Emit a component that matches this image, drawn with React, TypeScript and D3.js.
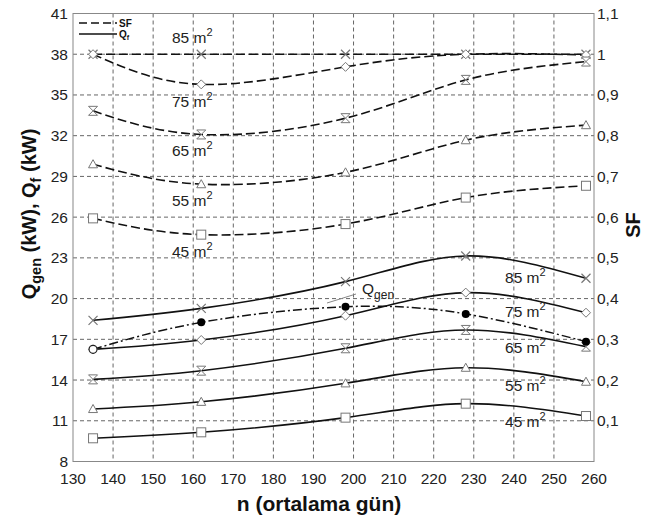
import React from "react";
import * as d3 from "d3";

const days = [135, 162, 198, 228, 258];
const areas = ["85", "75", "65", "55", "45"];
const markerTypes = ["cross", "diamond", "hourglass", "triangle", "square"];

// SF (right axis)
const sf85 = [1, 1, 1, 1, 1];
const sf75 = [1, 0.926, 0.969, 1, 0.998];
const sf65 = [0.861, 0.803, 0.843, 0.937, 0.982];
const sf55 = [0.73, 0.681, 0.71, 0.789, 0.826];
const sf45 = [0.597, 0.557, 0.583, 0.648, 0.677];

// Qf (left axis, kW)
const qf85 = [18.4, 19.28, 21.25, 23.14, 21.5];
const qf75 = [16.26, 16.95, 18.74, 20.44, 18.96];
const qf65 = [14.05, 14.69, 16.34, 17.69, 16.46];
const qf55 = [11.87, 12.4, 13.76, 14.91, 13.88];
const qf45 = [9.71, 10.15, 11.23, 12.26, 11.35];

// Qgen (left axis, kW)
const qgen = [16.26, 18.25, 19.4, 18.87, 16.83];

const xTicks = [130, 140, 150, 160, 170, 180, 190, 200, 210, 220, 230, 240, 250, 260];
const yLeftTicks = [8, 11, 14, 17, 20, 23, 26, 29, 32, 35, 38, 41];
const yRightTicks = [0.1, 0.2, 0.3, 0.4, 0.5, 0.6, 0.7, 0.8, 0.9, 1, 1.1];

// label anchor values (data coordinates)
const sfLabelDay = 154.7;
const sfLabelVal = [1.028, 0.87, 0.75, 0.627, 0.502];
const qfLabelDay = 237.8;
const qfLabelVal = [21.15, 18.65, 16.0, 13.2, 10.54];

const sfSeries = [sf85, sf75, sf65, sf55, sf45];
const qfSeries = [qf85, qf75, qf65, qf55, qf45];

const L = 73, R = 594, T = 13.5, B = 461.5;
const FONT = "'Liberation Sans', Arial, sans-serif";

function Marker({ type, x, y }: { type: string; x: number; y: number }) {
  const s = 4.5;
  const st = { stroke: "#777", strokeWidth: 1, fill: "#fff" } as any;
  if (type === "square") return <rect x={x - s} y={y - s} width={2 * s} height={2 * s} {...st} />;
  if (type === "diamond")
    return <path d={`M${x},${y - s}L${x + s},${y}L${x},${y + s}L${x - s},${y}Z`} {...st} />;
  if (type === "triangle")
    return <path d={`M${x},${y - s}L${x + s},${y + s * 0.8}L${x - s},${y + s * 0.8}Z`} {...st} />;
  if (type === "hourglass")
    return <path d={`M${x - s},${y - s}L${x + s},${y - s}L${x - s},${y + s}L${x + s},${y + s}Z`} {...st} />;
  if (type === "cross")
    return <path d={`M${x - s},${y - s}L${x + s},${y + s}M${x - s},${y + s}L${x + s},${y - s}`} stroke="#777" strokeWidth={1.2} fill="none" />;
  return null;
}

function AreaLabel({ x, y, a }: { x: number; y: number; a: string }) {
  return (
    <text x={x} y={y} fontSize={15.5} fill="#222" fontFamily={FONT}>
      {a} m<tspan fontSize={11} dy={-7}>2</tspan>
    </text>
  );
}

export default function App() {
  const x = d3.scaleLinear().domain([130, 260]).range([L, R]);
  const yL = d3.scaleLinear().domain([8, 41]).range([B, T]);
  const yR = d3.scaleLinear().domain([0, 1.1]).range([B, T]);

  const lineL = d3.line<number>().x((_, i) => x(days[i])).y((d) => yL(d)).curve(d3.curveNatural);
  const lineR = d3.line<number>().x((_, i) => x(days[i])).y((d) => yR(d)).curve(d3.curveNatural);

  return (
    <svg width={646} height={527} style={{ position: "absolute", left: 0, top: 0, background: "#fff" }}>
      <rect width={646} height={527} fill="#fff" />
      {/* grid */}
      {xTicks.slice(1, -1).map((t) => (
        <line key={"gx" + t} x1={x(t)} x2={x(t)} y1={T} y2={B} stroke="#666" strokeWidth={1} strokeDasharray="4,3" />
      ))}
      {yLeftTicks.slice(1, -1).map((t) => (
        <line key={"gy" + t} x1={L} x2={R} y1={yL(t)} y2={yL(t)} stroke="#666" strokeWidth={1} strokeDasharray="4,3" />
      ))}
      {/* frame */}
      <rect x={L} y={T} width={R - L} height={B - T} fill="none" stroke="#888" strokeWidth={1} />

      {/* SF lines */}
      {sfSeries.map((s, i) => (
        <path key={"sf" + i} d={lineR(s) || ""} fill="none" stroke="#111" strokeWidth={1.6} strokeDasharray="9,4" />
      ))}
      {/* Qf lines */}
      {qfSeries.map((s, i) => (
        <path key={"qf" + i} d={lineL(s) || ""} fill="none" stroke="#111" strokeWidth={1.6} />
      ))}
      {/* Qgen */}
      <path d={lineL(qgen) || ""} fill="none" stroke="#111" strokeWidth={1.5} strokeDasharray="9,3,2,3" />

      {/* markers */}
      {sfSeries.map((s, i) =>
        s.map((v, j) => <Marker key={`msf${i}-${j}`} type={markerTypes[i]} x={x(days[j])} y={yR(v)} />)
      )}
      {qfSeries.map((s, i) =>
        s.map((v, j) => <Marker key={`mqf${i}-${j}`} type={markerTypes[i]} x={x(days[j])} y={yL(v)} />)
      )}
      {qgen.map((v, j) =>
        j === 0 ? (
          <circle key={"g" + j} cx={x(days[j])} cy={yL(v)} r={4} fill="#fff" stroke="#222" strokeWidth={1.2} />
        ) : (
          <circle key={"g" + j} cx={x(days[j])} cy={yL(v)} r={4} fill="#000" />
        )
      )}

      {/* area labels */}
      {areas.map((a, i) => (
        <AreaLabel key={"ls" + a} a={a} x={x(sfLabelDay)} y={yR(sfLabelVal[i])} />
      ))}
      {areas.map((a, i) => (
        <AreaLabel key={"lq" + a} a={a} x={x(qfLabelDay)} y={yL(qfLabelVal[i])} />
      ))}
      {/* Qgen label */}
      <line x1={327} y1={303} x2={356} y2={294} stroke="#888" strokeWidth={1} />
      <text x={362} y={294} fontSize={15.5} fill="#222" fontFamily={FONT}>
        Q<tspan fontSize={12} dy={5}>gen</tspan>
      </text>

      {/* legend */}
      <line x1={79} x2={117} y1={23} y2={23} stroke="#111" strokeWidth={1.6} strokeDasharray="8,4" />
      <text x={119} y={27} fontSize={10} fontWeight="bold" fontFamily={FONT} fill="#111">SF</text>
      <line x1={79} x2={117} y1={34} y2={34} stroke="#111" strokeWidth={1.6} />
      <text x={119} y={38} fontSize={10} fontWeight="bold" fontFamily={FONT} fill="#111">
        Q<tspan fontSize={7} dy={2}>f</tspan>
      </text>

      {/* x ticks */}
      {xTicks.map((t) => (
        <text key={"xt" + t} x={x(t)} y={484} textAnchor="middle" fontSize={15.5} fill="#222" fontFamily={FONT}>
          {t}
        </text>
      ))}
      {yLeftTicks.map((t) => (
        <text key={"yl" + t} x={68} y={yL(t) + 5.5} textAnchor="end" fontSize={15.5} fill="#222" fontFamily={FONT}>
          {t}
        </text>
      ))}
      {yRightTicks.map((t) => (
        <text key={"yr" + t} x={597} y={yR(t) + 5.5} textAnchor="start" fontSize={15.5} fill="#222" fontFamily={FONT}>
          {d3.format(".2~f")(t).replace(".", ",")}
        </text>
      ))}

      {/* axis titles */}
      <text x={319} y={511} textAnchor="middle" fontSize={21} fontWeight="bold" fontFamily={FONT} fill="#111">
        n (ortalama gün)
      </text>
      <text transform="translate(36,214) rotate(-90)" textAnchor="middle" fontSize={20} fontWeight="bold" fontFamily={FONT} fill="#111">
        Q<tspan fontSize={14.5} dy={5}>gen</tspan><tspan dy={-5}> (kW), Q</tspan><tspan fontSize={14.5} dy={5}>f</tspan><tspan dy={-5}> (kW)</tspan>
      </text>
      <text transform="translate(640,225) rotate(-90)" textAnchor="middle" fontSize={20} fontWeight="bold" fontFamily={FONT} fill="#111">
        SF
      </text>
    </svg>
  );
}
